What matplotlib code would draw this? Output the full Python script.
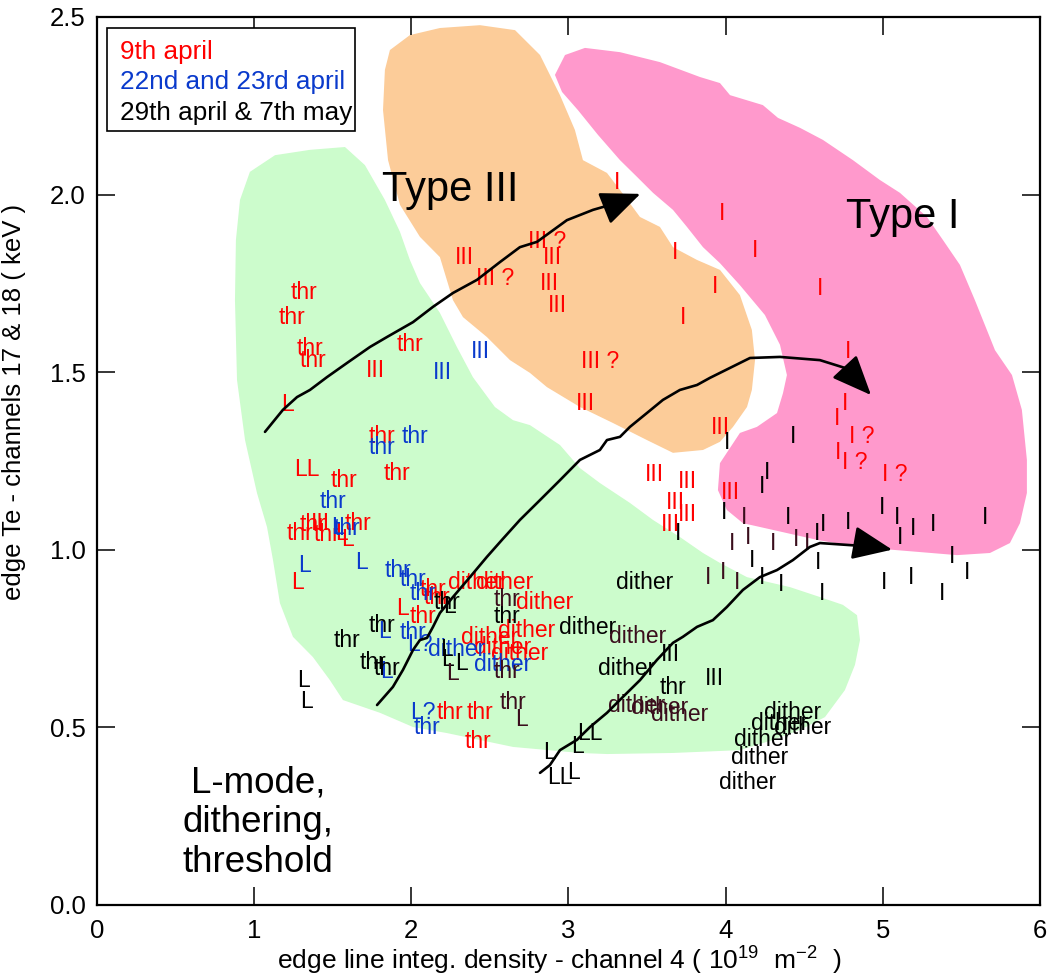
import matplotlib
matplotlib.use("Agg")
import matplotlib.pyplot as plt
from matplotlib.patches import Polygon, Rectangle

plt.rcParams['font.family'] = ['Liberation Sans', 'DejaVu Sans']
plt.rcParams['mathtext.default'] = 'regular'

RED = '#ff0000'
BLUE = '#0a3acc'
BLACK = '#000000'
MAROON = '#3a0d1c'

# region outlines (density, Te)
green_x = [0.910, 0.973, 1.133, 1.355, 1.578, 1.705, 1.832, 1.928, 1.991, 2.055, 2.182, 2.290, 2.392,
           2.532, 2.647, 2.755, 2.946, 3.073, 3.200, 3.391, 3.538, 3.709, 3.856, 3.964, 4.136, 4.409,
           4.600, 4.746, 4.836, 4.855, 4.823, 4.759, 4.632, 4.473, 4.282, 4.091, 3.665, 3.245, 3.073,
           2.647, 2.227, 2.011, 1.801, 1.565, 1.482, 1.374, 1.247, 1.164, 1.120, 1.082, 1.018, 0.942,
           0.891, 0.878, 0.884]
green_y = [1.985, 2.064, 2.111, 2.126, 2.134, 2.083, 1.985, 1.895, 1.816, 1.751, 1.667, 1.571, 1.486,
           1.402, 1.365, 1.351, 1.295, 1.230, 1.188, 1.132, 1.084, 1.036, 0.991, 0.963, 0.923, 0.895,
           0.867, 0.845, 0.816, 0.746, 0.676, 0.605, 0.529, 0.493, 0.462, 0.436, 0.428, 0.425, 0.428,
           0.445, 0.484, 0.501, 0.541, 0.577, 0.633, 0.698, 0.755, 0.850, 0.971, 1.064, 1.160, 1.309,
           1.478, 1.703, 1.872]

orange_x = [1.864, 1.991, 2.182, 2.437, 2.660, 2.819, 2.946, 3.041, 3.092, 3.245, 3.328, 3.455, 3.582,
            3.665, 3.818, 3.964, 4.091, 4.167, 4.187, 4.167, 4.136, 4.047, 3.964, 3.856, 3.665, 3.499,
            3.283, 3.073, 2.863, 2.755, 2.628, 2.481, 2.329, 2.265, 2.182, 2.055, 1.928, 1.852, 1.820,
            1.832]
orange_y = [2.407, 2.449, 2.469, 2.477, 2.463, 2.393, 2.280, 2.182, 2.097, 2.061, 2.013, 1.937, 1.909,
            1.852, 1.816, 1.788, 1.717, 1.619, 1.534, 1.450, 1.402, 1.346, 1.304, 1.281, 1.273, 1.309,
            1.357, 1.402, 1.458, 1.498, 1.534, 1.599, 1.655, 1.703, 1.824, 1.881, 1.971, 2.097, 2.238,
            2.351]

pink_x = [2.914, 2.978, 3.105, 3.328, 3.582, 3.837, 3.964, 4.028, 4.237, 4.333, 4.473, 4.619, 4.810,
          4.982, 5.109, 5.281, 5.383, 5.491, 5.586, 5.714, 5.822, 5.885, 5.917, 5.917, 5.873, 5.809,
          5.682, 5.472, 5.090, 4.836, 4.581, 4.301, 4.110, 4.008, 3.951, 3.964, 4.091, 4.199, 4.327,
          4.365, 4.390, 4.346, 4.250, 4.091, 3.964, 3.856, 3.754, 3.665, 3.538, 3.436, 3.328, 3.188,
          3.060, 2.959]
pink_y = [2.337, 2.393, 2.413, 2.401, 2.373, 2.331, 2.314, 2.280, 2.252, 2.216, 2.188, 2.154, 2.097,
          2.041, 2.005, 1.937, 1.872, 1.802, 1.703, 1.562, 1.492, 1.394, 1.253, 1.160, 1.075, 1.019,
          0.991, 0.985, 0.999, 1.008, 1.028, 1.056, 1.075, 1.112, 1.168, 1.244, 1.329, 1.346, 1.385,
          1.441, 1.492, 1.577, 1.661, 1.745, 1.807, 1.852, 1.909, 1.957, 2.005, 2.050, 2.097, 2.168,
          2.238, 2.289]

# trajectories (last point = arrow tip)
traj1_x = [1.069, 1.183, 1.273, 1.355, 1.463, 1.591, 1.737, 1.845, 2.011, 2.138, 2.265, 2.418, 2.564,
           2.691, 2.800, 2.990, 3.156, 3.328, 3.474]
traj1_y = [1.332, 1.394, 1.430, 1.450, 1.486, 1.526, 1.571, 1.599, 1.641, 1.684, 1.723, 1.760, 1.810,
           1.852, 1.867, 1.928, 1.957, 1.979, 2.005]
traj2_x = [1.782, 1.883, 1.947, 2.011, 2.055, 2.100, 2.138, 2.182, 2.265, 2.373, 2.481, 2.577, 2.691,
           2.819, 2.946, 3.073, 3.200, 3.245, 3.328, 3.391, 3.499, 3.601, 3.709, 3.818, 3.900, 4.155,
           4.346, 4.600, 4.759, 4.836, 4.937]
traj2_y = [0.563, 0.614, 0.662, 0.718, 0.746, 0.752, 0.783, 0.822, 0.867, 0.923, 0.980, 1.028, 1.084,
           1.140, 1.196, 1.253, 1.281, 1.309, 1.318, 1.346, 1.385, 1.422, 1.450, 1.464, 1.484, 1.540,
           1.543, 1.534, 1.512, 1.478, 1.430]
traj3_x = [2.819, 2.882, 2.946, 3.054, 3.137, 3.245, 3.347, 3.455, 3.563, 3.665, 3.728, 3.818, 3.919,
           4.008, 4.110, 4.218, 4.327, 4.428, 4.536, 4.600, 4.963, 5.077]
traj3_y = [0.372, 0.394, 0.436, 0.465, 0.501, 0.541, 0.586, 0.633, 0.690, 0.738, 0.755, 0.783, 0.802,
           0.839, 0.887, 0.923, 0.943, 0.971, 1.008, 1.019, 1.008, 0.999]

# 9th april
red_lbl = ['thr', 'thr', 'thr', 'thr', 'III', 'thr', 'L', 'thr', 'LL', 'thr', 'thr',
           'thr', 'thr', 'III', 'thr', 'L', 'thr', 'L', 'L',
           'thr', 'L', 'thr', 'thr', 'dither', 'dither', 'dither',
           'dither', 'dither', 'dither', 'dither', 'thr', 'thr', 'thr',
           'III', 'III ?', 'III ?', 'III', 'III', 'III', 'I', 'I', 'I', 'I', 'III ?', 'III',
           'III', 'III', 'III', 'III', 'III', 'III', 'III',
           'I', 'I', 'I', 'I', 'I', 'I', 'I ?', 'I', 'I ?', 'I ?']
red_x = [1.317, 1.241, 1.355, 1.374, 1.769, 1.991, 1.215, 1.813, 1.336, 1.572, 1.909,
         1.292, 1.374, 1.419, 1.463, 1.597, 1.661, 1.559, 1.279,
         2.138, 1.947, 2.074, 2.163, 2.418, 2.596, 2.850,
         2.500, 2.736, 2.583, 2.691, 2.246, 2.437, 2.424,
         2.341, 2.532, 2.863, 2.895, 2.882, 2.933, 3.309, 3.678, 3.932, 3.728, 3.200, 3.105,
         3.964, 3.550, 3.754, 3.678, 3.754, 3.646, 4.028,
         3.977, 4.187, 4.600, 4.778, 4.759, 4.708, 4.867, 4.715, 4.823, 5.077]
red_y = [1.723, 1.655, 1.568, 1.534, 1.506, 1.577, 1.408, 1.318, 1.225, 1.194, 1.216,
         1.047, 1.070, 1.075, 1.042, 1.028, 1.075, 1.047, 0.909,
         0.887, 0.836, 0.811, 0.867, 0.907, 0.907, 0.853,
         0.752, 0.774, 0.726, 0.709, 0.541, 0.541, 0.459,
         1.824, 1.765, 1.867, 1.822, 1.751, 1.689, 2.033, 1.838, 1.740, 1.655, 1.529, 1.413,
         1.343, 1.211, 1.191, 1.132, 1.098, 1.070, 1.160,
         1.948, 1.844, 1.737, 1.557, 1.413, 1.371, 1.318, 1.275, 1.247, 1.211]

# 22nd and 23rd april
blue_lbl = ['III', 'III', 'thr', 'thr', 'thr', 'L', 'thr', 'L', 'L', 'thr', 'thr', 'thr',
            'L', 'thr', 'L?', 'L', 'dither', 'dither', 'L?', 'thr']
blue_x = [2.437, 2.195, 2.023, 1.813, 1.502, 1.533, 1.591, 1.323, 1.686, 1.915, 2.011, 2.074,
          1.832, 2.011, 2.055, 1.845, 2.290, 2.583, 2.074, 2.100]
blue_y = [1.557, 1.498, 1.318, 1.287, 1.135, 1.064, 1.061, 0.957, 0.963, 0.943, 0.915, 0.878,
          0.769, 0.766, 0.732, 0.656, 0.718, 0.676, 0.543, 0.501]

# 29th april & 7th may
blk_lbl = ['thr', 'thr', 'thr', 'thr', 'L', 'L', 'thr', 'L', 'thr', 'dither', 'L', 'L', 'L',
           'III', 'III', 'thr', 'dither', 'dither', 'L', 'LL', 'L', 'L', 'LL',
           'dither', 'dither', 'dither', 'dither', 'dither', 'dither',
           'I', 'I', 'I', 'I', 'I', 'I', 'I', 'I', 'I', 'I', 'I', 'I', 'I', 'I',
           'I', 'I', 'I', 'I', 'I', 'I', 'I', 'I', 'I', 'I', 'I', 'I']
blk_x = [1.813, 1.591, 1.756, 1.845, 1.311, 1.336, 2.227, 2.246, 2.609, 3.124, 2.227, 2.233, 2.322,
         3.646, 3.932, 3.665, 3.487, 3.372, 2.882, 2.946, 3.029, 3.060, 3.137,
         4.428, 4.346, 4.492, 4.237, 4.218, 4.142,
         4.008, 4.428, 4.263, 4.231, 3.989, 4.397, 4.619, 4.778, 4.995, 5.090, 5.192, 5.319, 5.650, 5.109,
         3.697, 4.581, 4.587, 4.613, 5.007, 5.179, 5.376, 5.440, 5.535, 4.167, 4.231, 4.352]
blk_y = [0.788, 0.746, 0.684, 0.667, 0.633, 0.572, 0.853, 0.839, 0.811, 0.780, 0.718, 0.690, 0.681,
         0.704, 0.639, 0.611, 0.907, 0.667, 0.428, 0.358, 0.374, 0.445, 0.484,
         0.541, 0.512, 0.501, 0.465, 0.414, 0.346,
         1.301, 1.318, 1.219, 1.177, 1.104, 1.090, 1.070, 1.078, 1.120, 1.090, 1.061, 1.070, 1.090, 1.036,
         1.047, 1.047, 0.963, 0.878, 0.909, 0.921, 0.878, 0.980, 0.937, 0.971, 0.921, 0.901]

# same dates, printed in a darker maroon
mar_lbl = ['L', 'thr', 'thr', 'L', 'thr', 'dither', 'dither', 'dither', 'dither',
           'I', 'I', 'I', 'I', 'I', 'I', 'I', 'I', 'I']
mar_x = [2.259, 2.609, 2.647, 2.704, 2.609, 3.442, 3.436, 3.582, 3.709,
         4.040, 4.142, 4.301, 4.447, 4.517, 3.888, 3.983, 4.072, 4.117]
mar_y = [0.653, 0.656, 0.569, 0.521, 0.859, 0.755, 0.563, 0.557, 0.535,
         1.019, 1.036, 1.019, 1.028, 1.019, 0.921, 0.937, 0.909, 1.090]

legend_lbl = ['9th april', '22nd and 23rd april', '29th april & 7th may']
legend_col = [RED, BLUE, BLACK]

fig = plt.figure(figsize=(10.53, 9.77), dpi=100)
ax = fig.add_axes([0.0921, 0.0737, 0.8955, 0.9089])

ax.add_patch(Polygon(list(zip(green_x, green_y)), closed=True, fc='#ccfccc', ec='none', zorder=1))
ax.add_patch(Polygon(list(zip(orange_x, orange_y)), closed=True, fc='#fccc99', ec='none', zorder=1))
ax.add_patch(Polygon(list(zip(pink_x, pink_y)), closed=True, fc='#ff99cc', ec='none', zorder=1))

for tx, ty in [(traj1_x, traj1_y), (traj2_x, traj2_y), (traj3_x, traj3_y)]:
    ax.plot(tx[:-1], ty[:-1], color='k', lw=1.9, zorder=4, solid_capstyle='round')
    ax.annotate('', xy=(tx[-1], ty[-1]), xytext=(tx[-2], ty[-2]),
                arrowprops=dict(arrowstyle='-|>,head_length=1.3,head_width=0.55',
                                color='k', lw=1.9, mutation_scale=19), zorder=4)

fs = 16.5
for lbls, xs, ys, col in [(red_lbl, red_x, red_y, RED), (blue_lbl, blue_x, blue_y, BLUE),
                          (blk_lbl, blk_x, blk_y, BLACK), (mar_lbl, mar_x, mar_y, MAROON)]:
    for s, x, y in zip(lbls, xs, ys):
        ax.text(x, y, s, color=col, fontsize=fs, ha='center', va='center', zorder=3)

ax.text(2.246, 2.013, 'Type III', fontsize=30, ha='center', va='center', zorder=5)
ax.text(5.128, 1.937, 'Type I', fontsize=30, ha='center', va='center', zorder=5)
ax.text(1.024, 0.232, 'L-mode,\ndithering,\nthreshold', fontsize=26.5, ha='center', va='center',
        linespacing=1.18, zorder=5)

# legend box
ax.add_patch(Rectangle((0.0106, 0.8716), 0.263, 0.116, transform=ax.transAxes,
                       fc='white', ec='k', lw=1.2, zorder=6))
for i, (s, c) in enumerate(zip(legend_lbl, legend_col)):
    ax.text(0.0244, 0.9527 - i * 0.0343, s, color=c, fontsize=18.8, transform=ax.transAxes,
            ha='left', va='baseline', zorder=7)

ax.set_xlim(0, 6)
ax.set_ylim(0, 2.5)
ax.set_xticks(range(7))
ax.set_yticks([0.0, 0.5, 1.0, 1.5, 2.0, 2.5])
ax.set_yticklabels(['0.0', '0.5', '1.0', '1.5', '2.0', '2.5'])
ax.tick_params(direction='in', length=13, width=1.1, labelsize=18.5, top=True, right=True)
ax.tick_params(axis='x', pad=10)
ax.tick_params(axis='y', pad=8)
for sp in ax.spines.values():
    sp.set_linewidth(1.6)

ax.set_xlabel('edge line integ. density - channel 4 ( 10$^{19}$  m$^{-2}$  )', fontsize=19)
ax.xaxis.set_label_coords(0.49, -0.045)
ax.set_ylabel('edge Te - channels 17 & 18 ( keV )', fontsize=18.5)
ax.yaxis.set_label_coords(-0.075, 0.566)

fig.savefig('out.png', dpi=100)
